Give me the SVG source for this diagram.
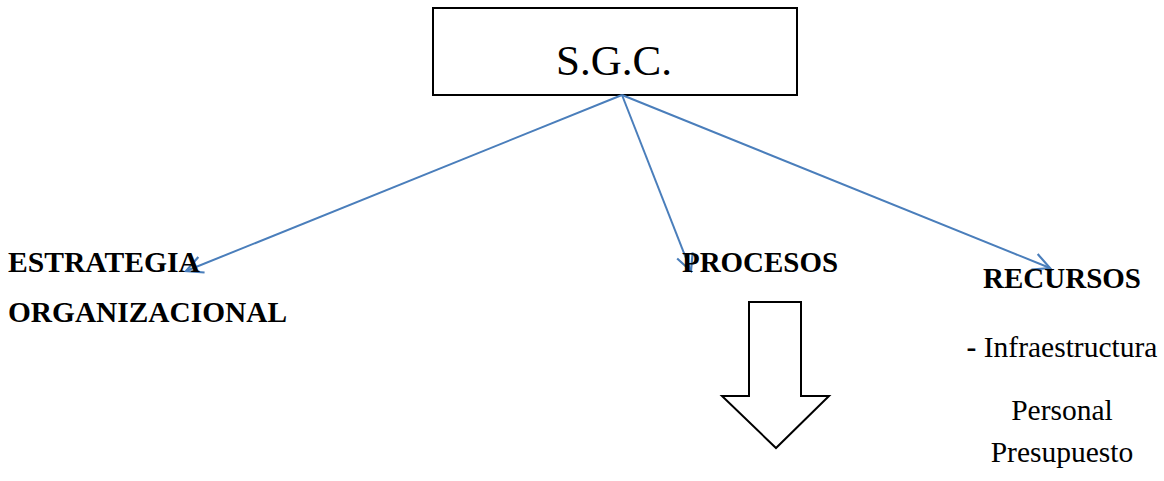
<svg xmlns="http://www.w3.org/2000/svg" width="1164" height="481" viewBox="0 0 1164 481">
  <style>
    .box { fill: #ffffff; stroke: #000000; stroke-width: 2; }
    .link { fill: none; stroke: #4a7ebb; stroke-width: 2; }
    .title { font-family: "Liberation Serif", "Times New Roman", serif; font-size: 43px; fill: #000; }
    .head { font-family: "Liberation Serif", "Times New Roman", serif; font-size: 29px; font-weight: bold; fill: #000; }
    .item { font-family: "Liberation Serif", "Times New Roman", serif; font-size: 29.5px; fill: #000; }
  </style>
  <defs>
    <marker id="open" viewBox="0 0 12 12" refX="11" refY="6" markerWidth="20" markerHeight="20" markerUnits="userSpaceOnUse" orient="auto">
      <path d="M1,1 L11,6 L1,11" fill="none" stroke="#4a7ebb" stroke-width="1.3"/>
    </marker>
  </defs>

  <g id="sgc">
    <rect class="box" x="433" y="8" width="364" height="87"/>
    <text class="title" x="614" y="75" text-anchor="middle">S.G.C.</text>
  </g>

  <g id="connectors">
    <line class="link" x1="622" y1="95" x2="186" y2="271" marker-end="url(#open)"/>
    <line class="link" x1="622" y1="95" x2="691" y2="271" marker-end="url(#open)"/>
    <line class="link" x1="622" y1="95" x2="1050" y2="268" marker-end="url(#open)"/>
  </g>

  <g id="estrategia">
    <text class="head" x="8" y="272" textLength="192" lengthAdjust="spacingAndGlyphs">ESTRATEGIA</text>
    <text class="head" x="8" y="322" textLength="279" lengthAdjust="spacingAndGlyphs">ORGANIZACIONAL</text>
  </g>

  <g id="procesos">
    <text class="head" x="682" y="272" textLength="156" lengthAdjust="spacingAndGlyphs">PROCESOS</text>
    <path class="box" d="M749,302 L801,302 L801,396 L829,396 L776,448 L722,396 L749,396 Z"/>
  </g>

  <g id="recursos">
    <text class="head" x="1062" y="288" text-anchor="middle">RECURSOS</text>
    <text class="item" x="1062" y="357" text-anchor="middle"><tspan font-weight="bold">-</tspan> Infraestructura</text>
    <text class="item" x="1062" y="420" text-anchor="middle">Personal</text>
    <text class="item" x="1062" y="462" text-anchor="middle">Presupuesto</text>
  </g>
</svg>
